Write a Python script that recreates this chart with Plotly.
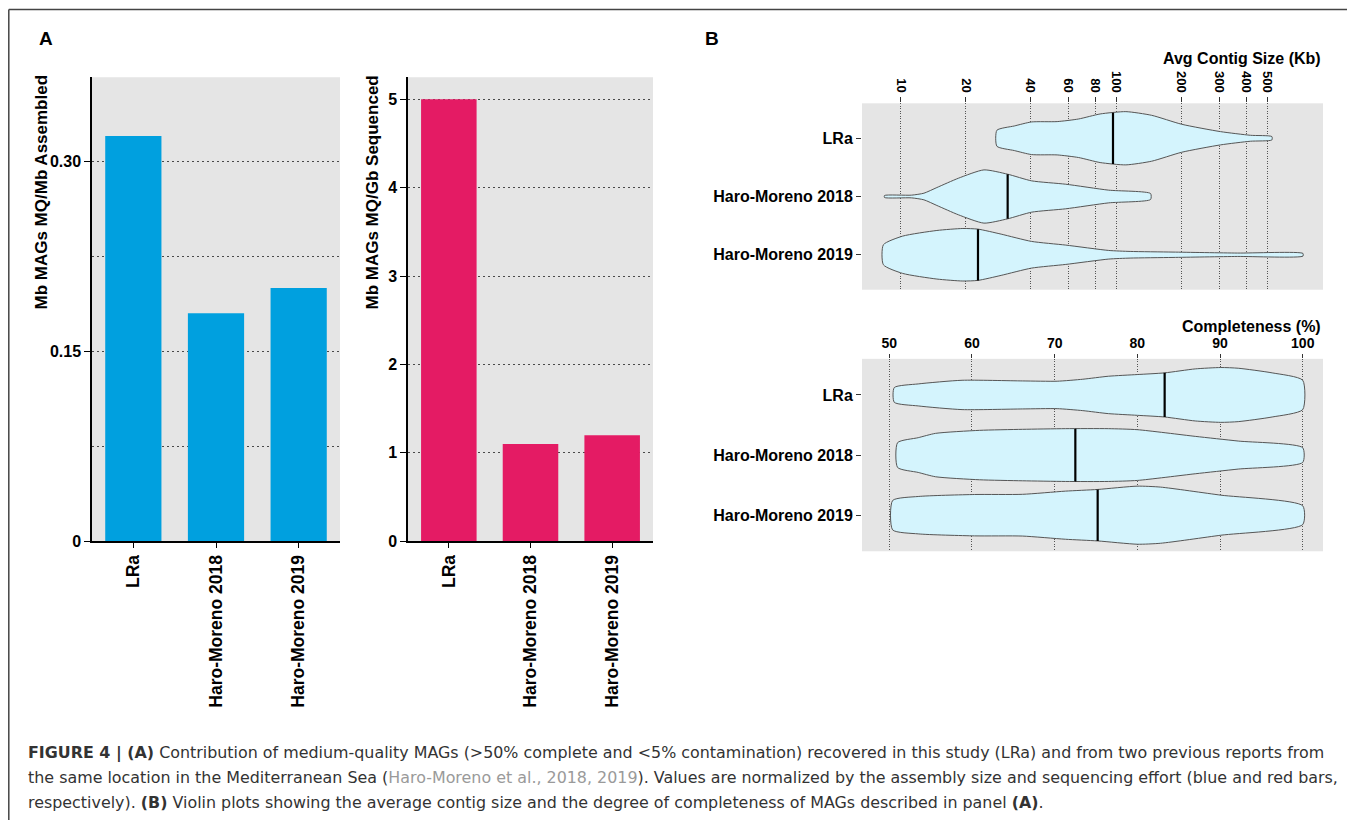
import plotly.graph_objects as go

# ---------------- data ----------------
categories = ["LRa", "Haro-Moreno 2018", "Haro-Moreno 2019"]
mb_per_mb_assembled = [0.32, 0.18, 0.20]
mb_per_gb_sequenced = [5.0, 1.1, 1.2]

# violin outlines: position (data units) and half-width (category units)
contig_lra_kb = [27.9, 33.6, 40.4, 53.1, 66.8, 84.0, 110.6, 145.6, 200.8, 303.7, 418.5, 526]
contig_lra_hw = [0.137, 0.211, 0.28, 0.286, 0.331, 0.417, 0.457, 0.394, 0.24, 0.114, 0.051, 0.029]
contig_h18_kb = [8.4, 11.2, 12.8, 14.7, 18.5, 24.3, 31.3, 40.4, 58.2, 92.1, 144]
contig_h18_hw = [0.017, 0.023, 0.057, 0.154, 0.314, 0.457, 0.383, 0.269, 0.211, 0.109, 0.051]
contig_h19_kb = [8.3, 10.2, 14.7, 19.4, 22.8, 29.2, 40.4, 58.2, 92.1, 115.8, 183, 364, 733]
contig_h19_hw = [0.171, 0.32, 0.417, 0.451, 0.44, 0.354, 0.229, 0.166, 0.074, 0.057, 0.046, 0.029, 0.023]
contig_median_kb = [96.4, 31.3, 22.8]
contig_median_hw = [0.44, 0.383, 0.44]

compl_lra = [50.6, 53.5, 58.8, 66.1, 70.3, 73.4, 76.5, 80.0, 83.3, 87.0, 90.1, 92.2, 96.3, 100.0]
compl_lra_hw = [0.122, 0.183, 0.244, 0.233, 0.228, 0.261, 0.311, 0.339, 0.367, 0.433, 0.456, 0.444, 0.367, 0.244]
compl_h18 = [51.0, 53.5, 55.6, 60.9, 66.1, 71.3, 76.5, 80.0, 87.0, 92.2, 100.0]
compl_h18_hw = [0.206, 0.289, 0.361, 0.411, 0.428, 0.439, 0.439, 0.422, 0.311, 0.233, 0.122]
compl_h19 = [50.4, 53.5, 60.3, 66.1, 71.3, 75.2, 80.0, 82.8, 90.1, 100.0]
compl_h19_hw = [0.244, 0.311, 0.344, 0.347, 0.4, 0.428, 0.483, 0.467, 0.333, 0.156]
compl_median = [83.3, 72.5, 75.2]
compl_median_hw = [0.367, 0.439, 0.428]

contig_ticks = [10, 20, 40, 60, 80, 100, 200, 300, 400, 500]
compl_ticks = [50, 60, 70, 80, 90, 100]

# ---------------- layout helpers ----------------
# page body has an 8px margin; the photographed page is slightly squeezed vertically
OFF = 8
KY = 0.9868
W, H = 1355 - OFF, 812
def fx(p):
    return (p - OFF) / W
def fy(p):
    return 1 - (p / KY - OFF) / H

FONT = "Liberation Sans, Arial, Helvetica, sans-serif"
CAPFONT = "DejaVu Sans, Liberation Sans, Arial, sans-serif"
BLUE = "#00A0DF"
PINK = "#E41B64"
BG = "#E5E5E5"
GRID = "#4a4a4a"
GRID_B = "#555555"
DOT_A = "2px,3px"
DOT_B = "1px,1.5px"
VFILL = "#D4F4FD"
VLINE = "#555555"

fig = go.Figure()

# ---------------- panel A bars ----------------
fig.add_trace(go.Bar(x=categories, y=mb_per_mb_assembled, marker=dict(color=BLUE, line=dict(width=0)),
                     xaxis="x", yaxis="y", showlegend=False))
fig.add_trace(go.Bar(x=categories, y=mb_per_gb_sequenced, marker=dict(color=PINK, line=dict(width=0)),
                     xaxis="x2", yaxis="y2", showlegend=False))

# ---------------- panel B violins ----------------
def violin(xs, hws, idx, xa, ya):
    up = [idx - h for h in hws]
    lo = [idx + h for h in hws]
    px = list(xs) + list(xs)[::-1] + [xs[0]]
    py = up + lo[::-1] + [up[0]]
    fig.add_trace(go.Scatter(x=px, y=py, mode="lines", fill="toself", fillcolor=VFILL,
                             line=dict(color=VLINE, width=1, shape="spline", smoothing=0.6),
                             xaxis=xa, yaxis=ya, showlegend=False, hoverinfo="skip"))

def median(val, hw, idx, xa, ya):
    fig.add_trace(go.Scatter(x=[val, val], y=[idx - hw, idx + hw], mode="lines",
                             line=dict(color="black", width=2.2), xaxis=xa, yaxis=ya,
                             showlegend=False, hoverinfo="skip"))

contig_sets = [(contig_lra_kb, contig_lra_hw), (contig_h18_kb, contig_h18_hw), (contig_h19_kb, contig_h19_hw)]
for i, (xs, hw) in enumerate(contig_sets):
    violin(xs, hw, i, "x3", "y3")
    median(contig_median_kb[i], contig_median_hw[i], i, "x3", "y3")

compl_sets = [(compl_lra, compl_lra_hw), (compl_h18, compl_h18_hw), (compl_h19, compl_h19_hw)]
for i, (xs, hw) in enumerate(compl_sets):
    violin(xs, hw, i, "x4", "y4")
    median(compl_median[i], compl_median_hw[i], i, "x4", "y4")

# ---------------- axes ----------------
tickfont_a = dict(family=FONT, size=16, color="black", weight="bold")
xtickfont_a = dict(family=FONT, size=17.5, color="black", weight="bold")

common_bar_x = dict(type="category", tickangle=-90, ticks="outside", ticklen=5, tickcolor="black",
                    showline=True, linecolor="black", linewidth=1.5, showgrid=False,
                    tickfont=xtickfont_a, range=[-0.5, 2.5])
common_bar_y = dict(ticks="outside", ticklen=6, tickcolor="black", showline=True, linecolor="black",
                    linewidth=1.5, showgrid=True, gridcolor=GRID, griddash=DOT_A, gridwidth=1,
                    zeroline=False, tickfont=tickfont_a)

fig.update_layout(
    xaxis=dict(domain=[fx(92), fx(340)], anchor="y", **common_bar_x),
    yaxis=dict(domain=[fy(540), fy(77)], anchor="x", range=[0, 0.3665],
               tickvals=[0, 0.15, 0.30], ticktext=["0", "0.15", "0.30"],
               minor=dict(tickvals=[0.075, 0.225], showgrid=True, gridcolor=GRID, griddash=DOT_A,
                          gridwidth=1, ticks=""),
               **common_bar_y),
    xaxis2=dict(domain=[fx(408), fx(653)], anchor="y2", **common_bar_x),
    yaxis2=dict(domain=[fy(540), fy(77)], anchor="x2", range=[0, 5.25],
                tickvals=[0, 1, 2, 3, 4, 5], **common_bar_y),
    xaxis3=dict(domain=[fx(862), fx(1323)], anchor="y3", type="log", range=[0.82, 2.958],
                side="top", tickvals=contig_ticks, ticktext=[str(t) for t in contig_ticks],
                tickangle=90, ticks="outside", ticklen=5, tickcolor="#333",
                showgrid=True, gridcolor=GRID_B, griddash=DOT_B, gridwidth=1, showline=False,
                zeroline=False, tickfont=dict(family=FONT, size=13, color="black", weight="bold")),
    yaxis3=dict(domain=[fy(289), fy(103)], anchor="x3", range=[2.6, -0.6],
                tickvals=[0, 1, 2], ticktext=categories, ticks="outside", ticklen=5, tickcolor="#333",
                showgrid=False, zeroline=False, showline=False,
                tickfont=dict(family=FONT, size=16, color="black", weight="bold")),
    xaxis4=dict(domain=[fx(862), fx(1323)], anchor="y4", range=[46.7, 102.45],
                side="top", tickvals=compl_ticks, ticks="outside", ticklen=4, tickcolor="#333",
                showgrid=True, gridcolor=GRID_B, griddash=DOT_B, gridwidth=1, showline=False,
                zeroline=False, tickfont=dict(family=FONT, size=14, color="black", weight="bold")),
    yaxis4=dict(domain=[fy(550), fy(358)], anchor="x4", range=[2.6, -0.6],
                tickvals=[0, 1, 2], ticktext=categories, ticks="outside", ticklen=5, tickcolor="#333",
                showgrid=False, zeroline=False, showline=False,
                tickfont=dict(family=FONT, size=16, color="black", weight="bold")),
)

# ---------------- text annotations ----------------
ann = []
def add_text(text, x, y, size, xanchor="center", yanchor="middle", angle=0, color="black", family=FONT):
    ann.append(dict(text=text, x=fx(x), y=fy(y), xref="paper", yref="paper", showarrow=False,
                    xanchor=xanchor, yanchor=yanchor, textangle=angle,
                    font=dict(family=family, size=size, color=color)))

add_text("<b>A</b>", 46, 38, 19)
add_text("<b>B</b>", 712, 38, 19)
add_text("<b>Mb MAGs MQ/Mb Assembled</b>", 42, 192, 17, angle=-90)
add_text("<b>Mb MAGs MQ/Gb Sequenced</b>", 373, 192, 17, angle=-90)
add_text("<b>Avg Contig Size (Kb)</b>", 1323, 58, 16, xanchor="right")
add_text("<b>Completeness (%)</b>", 1323, 326, 16, xanchor="right")

cap_color = "#333333"
cite = "<span style='color:#9a9a9a'>Haro-Moreno et al., 2018, 2019</span>"
cap1 = ("<b>FIGURE 4 | (A)</b> Contribution of medium-quality MAGs (&gt;50% complete and &lt;5% "
        "contamination) recovered in this study (LRa) and from two previous reports from")
cap2 = ("the same location in the Mediterranean Sea (" + cite + "). Values are normalized by the "
        "assembly size and sequencing effort (blue and red bars,")
cap3 = ("respectively). <b>(B)</b> Violin plots showing the average contig size and the degree of "
        "completeness of MAGs described in panel <b>(A)</b>.")
add_text(cap1, 26, 751, 15.9, xanchor="left", color=cap_color, family=CAPFONT)
add_text(cap2, 26, 776, 15.9, xanchor="left", color=cap_color, family=CAPFONT)
add_text(cap3, 26, 801, 15.9, xanchor="left", color=cap_color, family=CAPFONT)

# frame lines
shapes = [
    dict(type="line", xref="paper", yref="paper", x0=fx(8.8), x1=fx(1360), y0=fy(9.3), y1=fy(9.3),
         line=dict(color="#444", width=1.5)),
    dict(type="line", xref="paper", yref="paper", x0=fx(8.8), x1=fx(8.8), y0=fy(9.3), y1=fy(840),
         line=dict(color="#444", width=1.5)),
]

fig.update_layout(
    width=W, height=H, autosize=False,
    margin=dict(l=0, r=0, t=0, b=0),
    paper_bgcolor="white", plot_bgcolor=BG,
    bargap=0.32, showlegend=False,
    annotations=ann, shapes=shapes,
    font=dict(family=FONT, color="black"),
)

fig.write_html("out.html")
